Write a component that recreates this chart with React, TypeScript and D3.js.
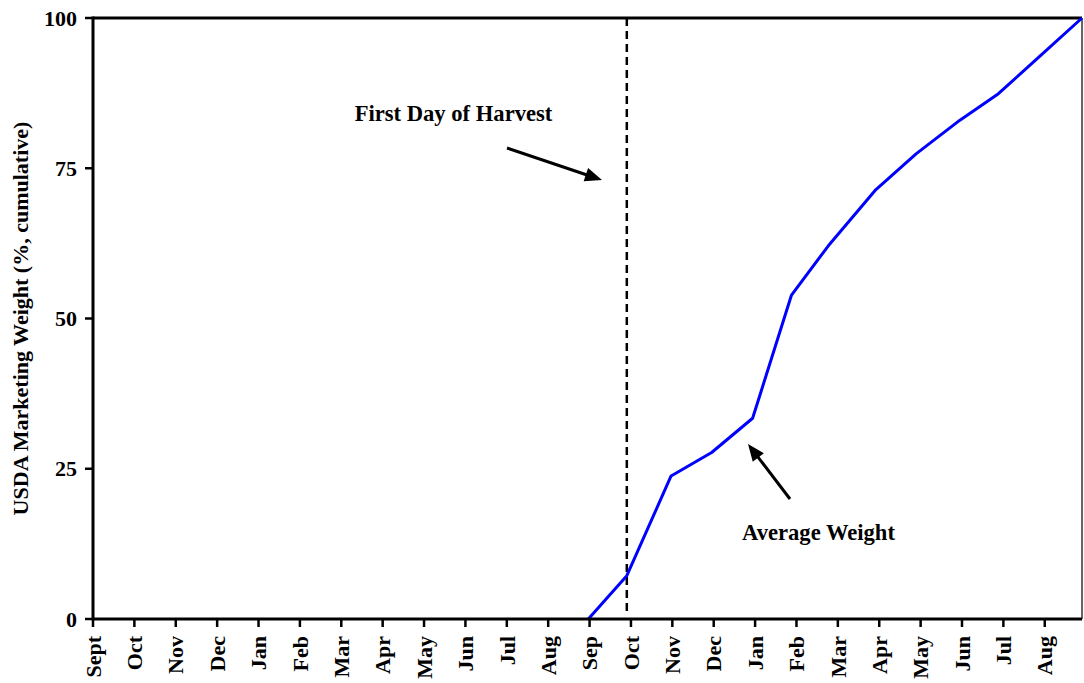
import React from "react";
import * as d3 from "d3";

const monthTickLabels = ["Sept","Oct","Nov","Dec","Jan","Feb","Mar","Apr","May","Jun","Jul","Aug","Sep","Oct","Nov","Dec","Jan","Feb","Mar","Apr","May","Jun","Jul","Aug"];
const yTicks = [0, 25, 50, 75, 100];
// month position (index from first Sept tick) and cumulative marketing weight (%)
const monthPos = [11.97, 12.9, 13.97, 14.95, 15.94, 16.88, 17.77, 18.9, 19.89, 20.95, 21.88, 22.89, 23.9];
const cumulativeWeight = [0, 7.2, 23.8, 27.7, 33.4, 53.9, 62.1, 71.3, 77.4, 83.0, 87.4, 93.7, 100];
const firstHarvestPos = 12.9;

const W = 1084, H = 683;
const M = { left: 93, right: 2, top: 18, bottom: 64 };
const FONT = "'Liberation Serif', 'Times New Roman', serif";

function Arrow({ x1, y1, x2, y2 }: { x1: number; y1: number; x2: number; y2: number }) {
  const a = Math.atan2(y2 - y1, x2 - x1);
  const L = 17, Wd = 7;
  const bx = x2 - L * Math.cos(a), by = y2 - L * Math.sin(a);
  const px = -Math.sin(a) * Wd, py = Math.cos(a) * Wd;
  return (
    <g>
      <line x1={x1} y1={y1} x2={bx + 2 * Math.cos(a)} y2={by + 2 * Math.sin(a)} stroke="#000" strokeWidth={3} />
      <path d={`M${x2},${y2} L${bx + px},${by + py} L${bx - px},${by - py} Z`} fill="#000" />
    </g>
  );
}

export default function App() {
  const x = d3.scaleLinear().domain([0, 23.9]).range([M.left, W - M.right]);
  const y = d3.scaleLinear().domain([0, 100]).range([H - M.bottom, M.top]);
  const line = d3.line<number>().x((_, i) => x(monthPos[i])).y((d) => y(d));
  const x0 = x(0), x1 = x(23.9), y0 = y(0), y1 = y(100);

  return (
    <svg width={W} height={H} style={{ position: "absolute", left: 0, top: 0, background: "#fff" }} fontFamily={FONT}>
      <rect x={0} y={0} width={W} height={H} fill="#fff" />
      {/* frame */}
      <line x1={x1} x2={x1} y1={y1} y2={y0} stroke="#333" strokeWidth={1.5} />
      <line x1={x0} x2={x1} y1={y1} y2={y1} stroke="#000" strokeWidth={3} />
      {/* first harvest dashed line */}
      <line x1={x(firstHarvestPos)} x2={x(firstHarvestPos)} y1={y1} y2={y0 - 5} stroke="#000" strokeWidth={2.5} strokeDasharray="8,5" />
      {/* data */}
      <path d={line(cumulativeWeight) || ""} fill="none" stroke="#0000ff" strokeWidth={3} strokeLinejoin="round" />
      {/* axes */}
      <line x1={x0} x2={x1} y1={y0} y2={y0} stroke="#000" strokeWidth={3} />
      <line x1={x0} x2={x0} y1={y1 - 1.5} y2={y0 + 1.5} stroke="#000" strokeWidth={3} />
      {yTicks.map((t) => (
        <g key={t}>
          <line x1={x0 - 8} x2={x0} y1={y(t)} y2={y(t)} stroke="#000" strokeWidth={2.5} />
          <text x={77} y={y(t)} dy="0.35em" textAnchor="end" fontWeight="bold" fontSize={22}>{t}</text>
        </g>
      ))}
      {monthTickLabels.map((m, i) => (
        <g key={i}>
          <line x1={x(i)} x2={x(i)} y1={y0} y2={y0 + 8} stroke="#000" strokeWidth={2.5} />
          <text transform={`translate(${x(i)},${y0 + 17}) rotate(-90)`} dy="0.35em" textAnchor="end" fontWeight="bold" fontSize={22}>{m}</text>
        </g>
      ))}
      <text transform={`translate(20,${(y0 + y1) / 2}) rotate(-90)`} dy="0.35em" textAnchor="middle" fontWeight="bold" fontSize={22}>USDA Marketing Weight (%, cumulative)</text>
      {/* annotations */}
      <text x={453.5} y={121} textAnchor="middle" fontWeight="bold" fontSize={22.6}>First Day of Harvest</text>
      <Arrow x1={507} y1={148} x2={602} y2={180} />
      <text x={818.5} y={540} textAnchor="middle" fontWeight="bold" fontSize={22.6}>Average Weight</text>
      <Arrow x1={790} y1={499} x2={748} y2={444} />
    </svg>
  );
}
